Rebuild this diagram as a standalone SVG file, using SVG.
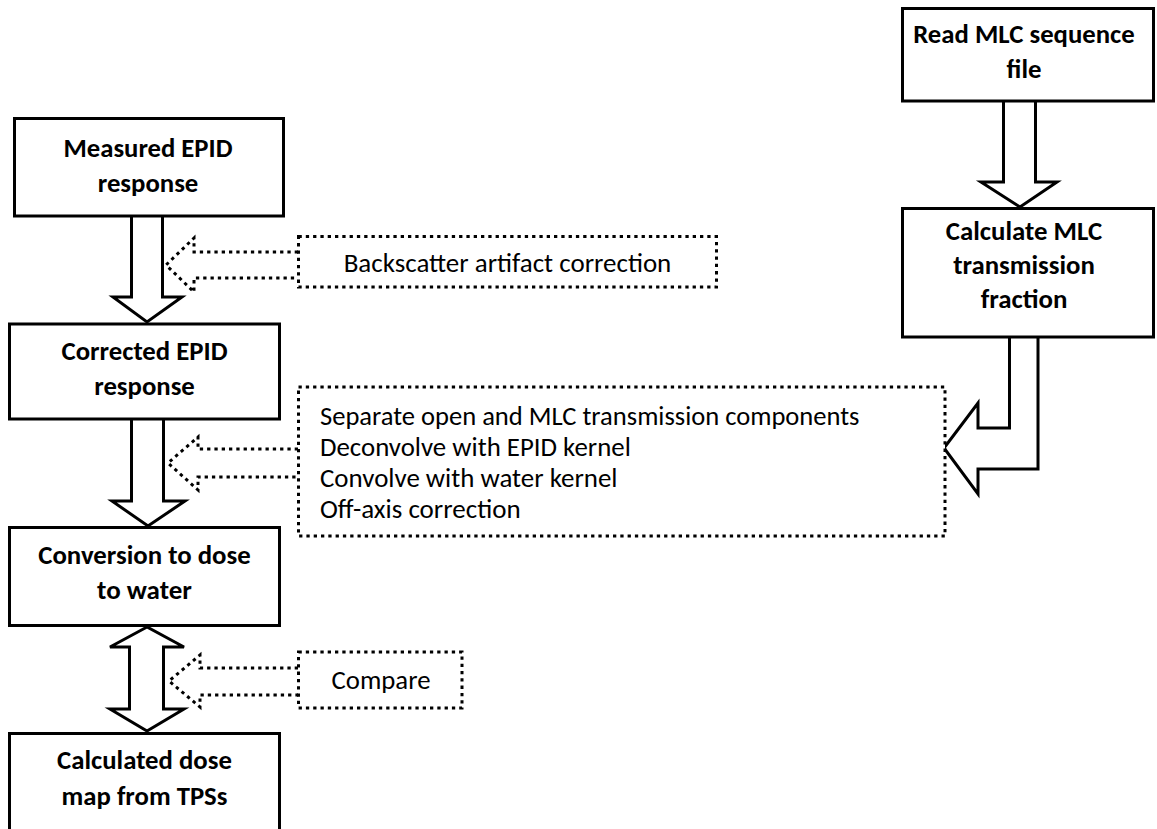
<svg xmlns="http://www.w3.org/2000/svg" width="1157" height="829" viewBox="0 0 1157 829">
<style>
.box{fill:#fff;stroke:#000;stroke-width:3}
.dot{fill:#fff;stroke:#000;stroke-width:3;stroke-dasharray:3.3 4}
.arr{fill:#fff;stroke:#000;stroke-width:3;stroke-linejoin:miter}
.b{font-family:Carlito,Calibri,Lato,"Open Sans",sans-serif;font-weight:bold;font-size:26.5px;text-anchor:middle;fill:#000}
.r{font-family:Carlito,Calibri,Lato,"Open Sans",sans-serif;font-size:26.5px;fill:#000}
.c{text-anchor:middle}
</style>
<rect width="1157" height="829" fill="#fff"/>
<g id="connectors">
<path class="arr" d="M131.5,216 L131.5,297 L113,297 L147,322 L182,297 L162.5,297 L162.5,216"/>
<path class="arr" d="M131.5,419 L131.5,501 L112,501 L148,526 L185,501 L163.5,501 L163.5,419"/>
<path class="arr" d="M147,627 L110,647 L129.5,647 L129.5,709 L110,709 L147,731 L184,709 L163.5,709 L163.5,647 L184,647 Z"/>
<path class="arr" d="M1003.5,101 L1003.5,182 L981,182 L1020,207 L1057,182 L1035.5,182 L1035.5,101"/>
<path class="arr" d="M1009.5,337 L1009.5,428 L978,428 L978,403 L944,448 L978,494 L978,469 L1038,469 L1038,337"/>
<path class="dot" d="M298,252 L194,252 L194,238 L166,265 L194,292 L194,278 L298,278"/>
<path class="dot" d="M298,449 L198,449 L198,437 L168,463 L198,490 L198,477 L298,477"/>
<path class="dot" d="M298,668 L200,668 L200,655 L169,681 L200,707 L200,695 L298,695"/>
</g>
<g id="measured">
<rect class="box" x="14.5" y="118.5" width="269" height="97.5"/>
<text class="b" x="148" y="157" textLength="169" lengthAdjust="spacingAndGlyphs">Measured EPID</text>
<text class="b" x="148" y="192" textLength="100.6" lengthAdjust="spacingAndGlyphs">response</text>
</g>
<g id="corrected">
<rect class="box" x="9.5" y="324" width="270" height="95"/>
<text class="b" x="144.5" y="360" textLength="166" lengthAdjust="spacingAndGlyphs">Corrected EPID</text>
<text class="b" x="144.5" y="395" textLength="100.6" lengthAdjust="spacingAndGlyphs">response</text>
</g>
<g id="conversion">
<rect class="box" x="9.5" y="527.5" width="270" height="98"/>
<text class="b" x="144.5" y="564" textLength="212.5" lengthAdjust="spacingAndGlyphs">Conversion to dose</text>
<text class="b" x="144.5" y="599" textLength="94.8" lengthAdjust="spacingAndGlyphs">to water</text>
</g>
<g id="calculated">
<rect class="box" x="9.5" y="733.5" width="270" height="120"/>
<text class="b" x="144.5" y="769" textLength="174.8" lengthAdjust="spacingAndGlyphs">Calculated dose</text>
<text class="b" x="144.5" y="805" textLength="165.8" lengthAdjust="spacingAndGlyphs">map from TPSs</text>
</g>
<g id="readmlc">
<rect class="box" x="902.5" y="8.5" width="251" height="92.5"/>
<text class="b" x="1024" y="43" textLength="221.6" lengthAdjust="spacingAndGlyphs">Read MLC sequence</text>
<text class="b" x="1024" y="78" textLength="35" lengthAdjust="spacingAndGlyphs">file</text>
</g>
<g id="mlctrans">
<rect class="box" x="902.5" y="208.5" width="251" height="128.5"/>
<text class="b" x="1024" y="240" textLength="156.4" lengthAdjust="spacingAndGlyphs">Calculate MLC</text>
<text class="b" x="1024" y="274" textLength="141.6" lengthAdjust="spacingAndGlyphs">transmission</text>
<text class="b" x="1024" y="308" textLength="86.7" lengthAdjust="spacingAndGlyphs">fraction</text>
</g>
<g id="backscatter">
<rect class="dot" x="298.5" y="236.5" width="418" height="50.5"/>
<text class="r c" x="507.5" y="272" textLength="327.6" lengthAdjust="spacingAndGlyphs">Backscatter artifact correction</text>
</g>
<g id="processing">
<rect class="dot" x="298.5" y="387" width="646.5" height="149"/>
<text class="r" x="320" y="425" textLength="539.5" lengthAdjust="spacingAndGlyphs">Separate open and MLC transmission components</text>
<text class="r" x="320" y="456" textLength="310.8" lengthAdjust="spacingAndGlyphs">Deconvolve with EPID kernel</text>
<text class="r" x="320" y="487" textLength="297.5" lengthAdjust="spacingAndGlyphs">Convolve with water kernel</text>
<text class="r" x="320" y="518" textLength="200.6" lengthAdjust="spacingAndGlyphs">Off-axis correction</text>
</g>
<g id="compare">
<rect class="dot" x="298.5" y="652" width="163.5" height="56"/>
<text class="r c" x="381" y="689" textLength="98.9" lengthAdjust="spacingAndGlyphs">Compare</text>
</g>
</svg>
